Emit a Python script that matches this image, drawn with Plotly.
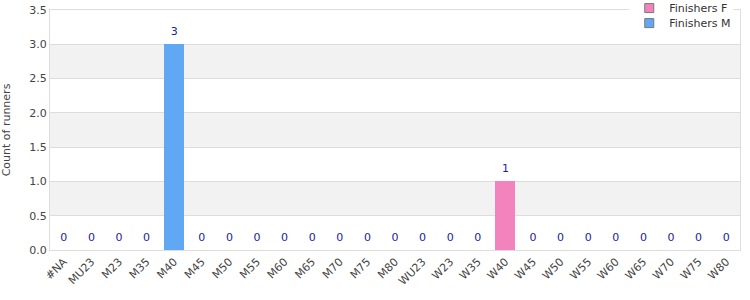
import plotly.graph_objects as go

categories = ["#NA", "MU23", "M23", "M35", "M40", "M45", "M50", "M55", "M60", "M65",
              "M70", "M75", "M80", "WU23", "W23", "W35", "W40", "W45", "W50", "W55",
              "W60", "W65", "W70", "W75", "W80"]
finishers_f = [0, 0, 0, 0, 0, 0, 0, 0, 0, 0, 0, 0, 0, 0, 0, 0, 1, 0, 0, 0, 0, 0, 0, 0, 0]
finishers_m = [0, 0, 0, 0, 3, 0, 0, 0, 0, 0, 0, 0, 0, 0, 0, 0, 0, 0, 0, 0, 0, 0, 0, 0, 0]
y_ticks = [0.0, 0.5, 1.0, 1.5, 2.0, 2.5, 3.0, 3.5]

series = [("Finishers F", finishers_f, "#f383bd", "legend"),
          ("Finishers M", finishers_m, "#60a8f3", "legend2")]
totals = [f + m for f, m in zip(finishers_f, finishers_m)]

fig = go.Figure()
for name, vals, col, lg in series:
    fig.add_trace(go.Bar(x=categories, y=vals, name=name, showlegend=False,
                         marker=dict(color=col, line=dict(width=0))))
fig.add_trace(go.Scatter(x=categories, y=totals, mode="markers+text",
                         text=[str(t) for t in totals], textposition="top center",
                         marker=dict(size=9, color="rgba(0,0,0,0)"),
                         showlegend=False, hoverinfo="skip", cliponaxis=False,
                         textfont=dict(color="#22229a", size=11)))
# legend proxies (square symbols)
for name, vals, col, lg in series:
    fig.add_trace(go.Scatter(x=[None], y=[None], mode="markers", name=name, legend=lg,
                             marker=dict(symbol="square", size=9, color=col,
                                         line=dict(color="#777", width=1))))

# alternating grey bands
shapes = []
for i in range(1, len(y_ticks) - 1, 2):
    shapes.append(dict(type="rect", xref="paper", yref="y", x0=0, x1=1,
                       y0=y_ticks[i], y1=y_ticks[i + 1], fillcolor="#f2f2f2",
                       line=dict(width=0), layer="below"))

legend_common = dict(xref="container", yref="container", xanchor="left", yanchor="middle",
                     font=dict(size=11, color="#333"), borderwidth=0, itemwidth=30)

fig.update_layout(
    width=750, height=300,
    margin=dict(l=50, r=10, t=10, b=50, autoexpand=False),
    barmode="stack", bargap=0.28,
    paper_bgcolor="white", plot_bgcolor="white",
    font=dict(family="DejaVu Sans", size=11, color="#444"),
    shapes=shapes,
    legend=dict(x=0.839, y=0.973, bgcolor="white", **legend_common),
    legend2=dict(x=0.839, y=0.923, bgcolor="rgba(0,0,0,0)", **legend_common),
    xaxis=dict(tickangle=-45, showline=True, linecolor="#ddd", mirror=True,
               range=[-0.5, len(categories) - 0.5],
               tickfont=dict(size=11, color="#444"), ticks="", automargin=False),
    yaxis=dict(range=[0, 3.5], tickvals=y_ticks, tickformat=".1f", showgrid=True,
               gridcolor="#ddd", showline=True, linecolor="#ddd", mirror=True,
               zeroline=False, automargin=False,
               title=dict(text="Count of runners", font=dict(size=11), standoff=17),
               tickfont=dict(size=11, color="#444")),
)

fig.write_html("out.html")
